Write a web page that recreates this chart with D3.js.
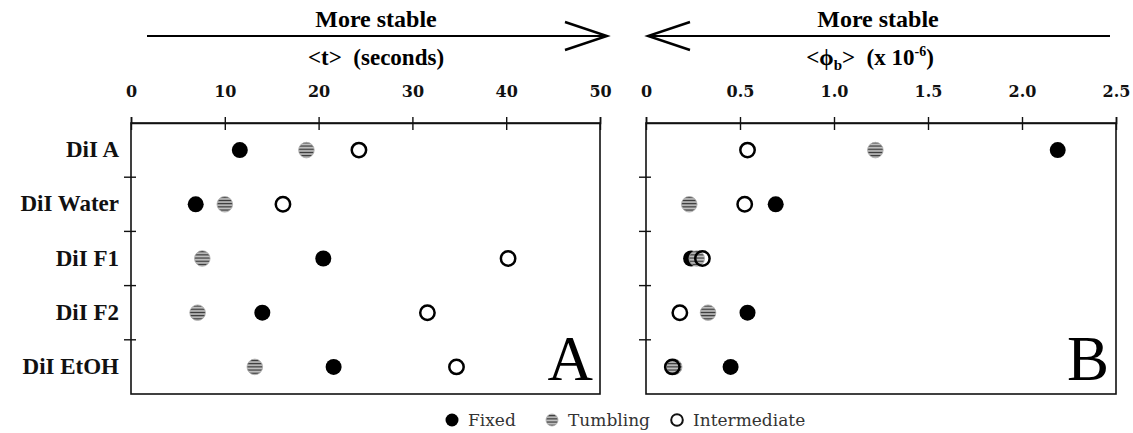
<!DOCTYPE html>
<html>
<head>
<meta charset="utf-8">
<script src="https://cdn.jsdelivr.net/npm/d3@7"></script>
<style>
  html, body { margin: 0; padding: 0; background: #fff; }
  svg { display: block; }
</style>
</head>
<body>
<svg id="chart" width="1133" height="433"></svg>
<script>
// ---------- data ----------
const categories = ["DiI A", "DiI Water", "DiI F1", "DiI F2", "DiI EtOH"];
const seriesNames = ["Fixed", "Tumbling", "Intermediate"];

// Panel A: <t> (seconds)
const fixedA        = [11.6, 6.9, 20.5, 14.0, 21.6];
const tumblingA     = [18.7, 10.0, 7.6, 7.1, 13.2];
const intermediateA = [24.3, 16.2, 40.2, 31.6, 34.7];

// Panel B: <phi_b> (x 10^-6)
const fixedB        = [2.19, 0.69, 0.24, 0.54, 0.45];
const tumblingB     = [1.22, 0.23, 0.27, 0.33, 0.15];
const intermediateB = [0.54, 0.525, 0.30, 0.18, 0.14];

const ticksA = [0, 10, 20, 30, 40, 50];
const ticksB = [0, 0.5, 1.0, 1.5, 2.0, 2.5];
const tickLabelsB = ["0", "0.5", "1.0", "1.5", "2.0", "2.5"];

// ---------- layout ----------
const svg = d3.select("#chart");
const plotTop = 123, plotBottom = 394;
const SERIF = "'Liberation Serif', 'Times New Roman', serif";
const WIDE = "'DejaVu Serif', serif";

const y = d3.scaleBand().domain(categories).range([plotTop, plotBottom]);

// tumbling pattern
const defs = svg.append("defs");
const pat = defs.append("pattern").attr("id", "stripes")
  .attr("patternUnits", "userSpaceOnUse").attr("width", 6).attr("height", 3.2);
pat.append("rect").attr("width", 6).attr("height", 3.2).attr("fill", "#c4c4c4");
pat.append("rect").attr("y", 1.4).attr("width", 6).attr("height", 1.3).attr("fill", "#333");

function panel(cfg) {
  const x = d3.scaleLinear().domain(cfg.domain).range(cfg.range);
  const g = svg.append("g");

  // frame
  g.append("rect").attr("x", cfg.range[0]).attr("y", plotTop)
    .attr("width", cfg.range[1] - cfg.range[0]).attr("height", plotBottom - plotTop)
    .attr("fill", "none").attr("stroke", "#111").attr("stroke-width", 1.6);

  // top axis
  const ax = g.append("g").attr("transform", `translate(0,${plotTop})`)
    .call(d3.axisTop(x).tickValues(cfg.ticks).tickSize(6).tickPadding(20)
      .tickFormat((d, i) => cfg.tickLabels[i]));
  ax.select(".domain").attr("stroke", "#111").attr("stroke-width", 1.6);
  ax.selectAll(".tick line").attr("y1", 7).attr("y2", -6)
    .attr("stroke", "#111").attr("stroke-width", 1.4);
  ax.selectAll(".tick text").attr("fill", "#111")
    .style("font-family", WIDE).style("font-weight", "bold").style("font-size", "16px");

  // left ticks at band boundaries
  g.selectAll(".ytick").data(categories.slice(1)).join("line")
    .attr("x1", cfg.range[0] - 7).attr("x2", cfg.range[0] + 5)
    .attr("y1", d => y(d)).attr("y2", d => y(d))
    .attr("stroke", "#111").attr("stroke-width", 1.4);

  // arrow
  const a = cfg.arrow;
  g.append("line").attr("x1", a[0]).attr("x2", a[1]).attr("y1", 36).attr("y2", 36)
    .attr("stroke", "#000").attr("stroke-width", 2.2);
  const dir = a[1] > a[0] ? -1 : 1;
  g.append("path")
    .attr("d", `M${a[1] + dir * 42},22 L${a[1]},36 L${a[1] + dir * 42},50`)
    .attr("fill", "none").attr("stroke", "#000").attr("stroke-width", 2.4);

  g.append("text").attr("x", cfg.titleX).attr("y", 27).attr("text-anchor", "middle")
    .style("font-family", SERIF).style("font-weight", "bold").style("font-size", "24px")
    .text("More stable");

  cfg.axisTitle(g.append("text").attr("x", cfg.axisTitleX).attr("y", 65)
    .attr("text-anchor", "middle")
    .style("font-family", SERIF).style("font-weight", "bold").style("font-size", "23px"));

  // points
  const rows = categories.map((c, i) => ({
    c, f: cfg.fixed[i], t: cfg.tumbling[i], m: cfg.inter[i]
  }));
  const cy = d => y(d.c) + y.bandwidth() / 2;
  g.selectAll(".fixed").data(rows).join("circle")
    .attr("cx", d => x(d.f)).attr("cy", cy).attr("r", 8).attr("fill", "#000");
  g.selectAll(".tumb").data(rows).join("circle")
    .attr("cx", d => x(d.t)).attr("cy", cy).attr("r", 7.8)
    .attr("fill", "url(#stripes)").attr("stroke", "#aaa").attr("stroke-width", 0.8);
  g.selectAll(".inter").data(rows).join("circle")
    .attr("cx", d => x(d.m)).attr("cy", cy).attr("r", 7.2)
    .attr("fill", "none").attr("stroke", "#000").attr("stroke-width", 2.5);

  // panel letter
  g.append("text").attr("x", cfg.range[1] - 7).attr("y", 380).attr("text-anchor", "end")
    .style("font-family", SERIF).style("font-size", "63px").text(cfg.letter);

  return x;
}

panel({
  domain: [0, 50], range: [131, 600], ticks: ticksA, tickLabels: ticksA.map(String),
  fixed: fixedA, tumbling: tumblingA, inter: intermediateA,
  arrow: [147, 607], titleX: 376, axisTitleX: 376, letter: "A",
  axisTitle: t => t.text("<t>\u00a0\u00a0(seconds)")
});

panel({
  domain: [0, 2.5], range: [646, 1116], ticks: ticksB, tickLabels: tickLabelsB,
  fixed: fixedB, tumbling: tumblingB, inter: intermediateB,
  arrow: [1110, 648], titleX: 878, axisTitleX: 870, letter: "B",
  axisTitle: t => {
    t.append("tspan").text("<\u03d5");
    t.append("tspan").attr("dy", 5).style("font-size", "15px").text("b");
    t.append("tspan").attr("dy", -5).text(">\u00a0\u00a0(x 10");
    t.append("tspan").attr("dy", -9).style("font-size", "14px").text("-6");
    t.append("tspan").attr("dy", 9).text(")");
  }
});

// row labels
svg.selectAll(".rowlab").data(categories).join("text")
  .attr("x", 119).attr("y", d => y(d) + y.bandwidth() / 2 + 7)
  .attr("text-anchor", "end")
  .style("font-family", SERIF).style("font-weight", "bold").style("font-size", "23px")
  .attr("fill", "#111")
  .text(d => d);

// legend
const legend = svg.append("g").attr("transform", "translate(0,420)");
const legItems = [
  { name: seriesNames[0], x: 452 },
  { name: seriesNames[1], x: 552 },
  { name: seriesNames[2], x: 677 }
];
legItems.forEach((d, i) => {
  if (i === 0) legend.append("circle").attr("cx", d.x).attr("cy", 0).attr("r", 6.5).attr("fill", "#000");
  if (i === 1) legend.append("circle").attr("cx", d.x).attr("cy", 0).attr("r", 6)
    .attr("fill", "url(#stripes)").attr("stroke", "#aaa").attr("stroke-width", 0.8);
  if (i === 2) legend.append("circle").attr("cx", d.x).attr("cy", 0).attr("r", 5.8)
    .attr("fill", "none").attr("stroke", "#111").attr("stroke-width", 2);
  legend.append("text").attr("x", d.x + 16).attr("y", 6)
    .style("font-family", WIDE).style("font-size", "17px").attr("fill", "#333")
    .text(d.name);
});
</script>
</body>
</html>
